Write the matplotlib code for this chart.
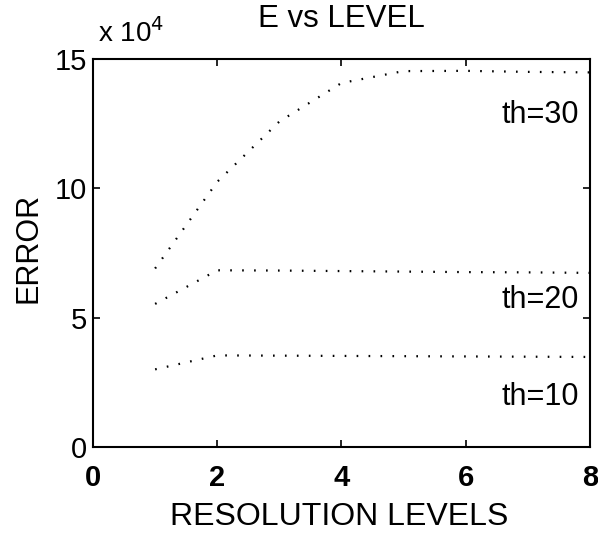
import numpy as np
from matplotlib import pyplot as plt
from matplotlib.ticker import FuncFormatter

plt.rcParams['font.family'] = ['Liberation Sans', 'DejaVu Sans']
plt.rcParams['lines.scale_dashes'] = False

#Resolution levels
levels = [1, 2, 3, 4, 5, 6, 7, 8]
#Error for each threshold
err_th30 = [69000, 102500, 125800, 140700, 145300, 145400, 145000, 144800]
err_th20 = [55300, 68300, 68200, 68000, 67800, 67600, 67500, 67300]
err_th10 = [30000, 35400, 35300, 35200, 35100, 35000, 34900, 34800]
#Label text and where it sits (level, error)
names = ['th=30', 'th=20', 'th=10']
name_pos = [(7.82, 128300), (7.82, 56800), (7.82, 19300)]

xticks = [0, 2, 4, 6, 8]
yticks = [0, 50000, 100000, 150000]

fig = plt.figure(figsize=(5.98, 5.33), dpi=100)
ax = fig.add_axes([0.1555, 0.1614, 0.831, 0.728])

for e in [err_th30, err_th20, err_th10]:
    ax.plot(levels, e, color='black', linewidth=1.6, linestyle=(0, (1.2, 7.4)))

for n, p in zip(names, name_pos):
    ax.text(p[0], p[1], n, ha='right', va='center', fontsize=22)

ax.set_xlim(0, 8)
ax.set_ylim(0, 150000)
ax.set_xticks(xticks)
ax.set_yticks(yticks)
ax.yaxis.set_major_formatter(FuncFormatter(lambda v, pos: '%g' % (v / 1e4)))
ax.tick_params(direction='in', top=True, right=True, length=5, width=1.2)
ax.tick_params(axis='x', labelsize=21, pad=12)
ax.tick_params(axis='y', labelsize=21, pad=4)
for lab in ax.get_xticklabels():
    lab.set_fontweight('bold')
for s in ax.spines.values():
    s.set_linewidth(1.5)

ax.text(0.01, 1.044, r'x 10$^4$', transform=ax.transAxes, fontsize=20)
ax.text(0.5, 1.103, 'E vs LEVEL', transform=ax.transAxes, ha='center', va='center', fontsize=22.5)
ax.set_xlabel('RESOLUTION LEVELS', fontsize=23)
ax.xaxis.set_label_coords(0.495, -0.142)
ax.set_ylabel('ERROR', fontsize=22, va='center')
ax.yaxis.set_label_coords(-0.13, 0.513)

plt.savefig('out.png', dpi=100)
